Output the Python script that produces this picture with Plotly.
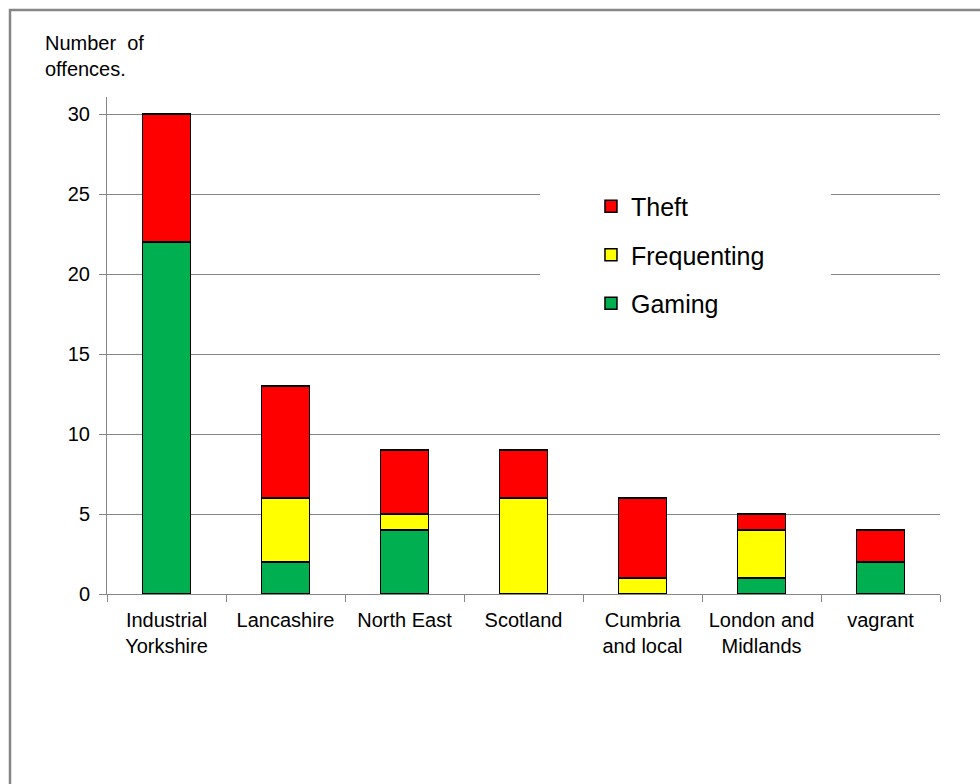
import plotly.graph_objects as go

categories = ["Industrial<br>Yorkshire", "Lancashire", "North East", "Scotland",
              "Cumbria<br>and local", "London and<br>Midlands", "vagrant"]
gaming = [22, 2, 4, 0, 0, 1, 2]
frequenting = [0, 4, 1, 6, 1, 3, 0]
theft = [8, 7, 4, 3, 5, 1, 2]

series = [("Gaming", gaming, "#00B050", 3),
          ("Frequenting", frequenting, "#FFFF00", 2),
          ("Theft", theft, "#FF0000", 1)]

y_tickvals = [0, 5, 10, 15, 20, 25, 30, 35]
y_ticktext = ["0", "5", "10", "15", "20", "25", "30", ""]

FONT = "Liberation Sans, Arial, sans-serif"
GRID = "#868686"

fig = go.Figure()
for name, vals, col, rank in series:
    fig.add_trace(go.Bar(
        x=categories, y=vals, name=name, legendgroup=name, legendrank=rank,
        marker=dict(color=col, line=dict(color="#000000", width=1.5)),
    ))

fig.update_layout(
    width=980, height=784,
    margin=dict(l=107, r=40, t=34, b=190),
    paper_bgcolor="white", plot_bgcolor="white",
    barmode="stack", bargap=0.6,
    font=dict(family=FONT, size=20, color="#000000"),
    showlegend=True,
    legend=dict(
        x=0.581, y=0.733, xanchor="left", yanchor="top",
        traceorder="grouped", tracegroupgap=13,
        font=dict(size=25, family=FONT, color="#000000"),
        bgcolor="rgba(0,0,0,0)",
    ),
    xaxis=dict(
        showline=True, linecolor=GRID, linewidth=1,
        ticks="outside", tickson="boundaries", ticklen=7, tickcolor=GRID,
        showgrid=False, tickfont=dict(size=20), ticklabelstandoff=8,
    ),
    yaxis=dict(
        range=[0, 35], tickvals=y_tickvals, ticktext=y_ticktext,
        showline=True, linecolor=GRID, linewidth=1,
        ticks="outside", ticklen=7, tickcolor=GRID,
        showgrid=True, gridcolor=GRID, gridwidth=1, zeroline=False,
        tickfont=dict(size=20), ticklabelstandoff=5,
    ),
    shapes=[
        # white box behind the axis title text
        dict(type="rect", xref="paper", yref="paper",
             x0=-0.115, x1=(222 - 107) / 833, y0=(594 - 97) / 560, y1=1.03,
             fillcolor="white", line=dict(width=0), layer="above"),
        # white box behind the legend
        dict(type="rect", xref="paper", yref="paper",
             x0=(540 - 107) / 833, x1=(831 - 107) / 833,
             y0=(594 - 335) / 560, y1=(594 - 182) / 560,
             fillcolor="white", line=dict(width=0), layer="above"),
        # outer border
        dict(type="rect", xref="paper", yref="paper",
             x0=(10 - 107) / 833, x1=1.2, y0=-0.6, y1=(594 - 10) / 560,
             fillcolor="rgba(0,0,0,0)", line=dict(color=GRID, width=2.5), layer="above"),
    ],
    annotations=[
        dict(text="Number  of<br>offences.", xref="paper", yref="paper",
             x=(43 - 107) / 833, y=(594 - 30) / 560, xanchor="left", yanchor="top",
             align="left", showarrow=False, font=dict(size=20, family=FONT, color="#000000")),
    ],
)

fig.write_html("out.html")
